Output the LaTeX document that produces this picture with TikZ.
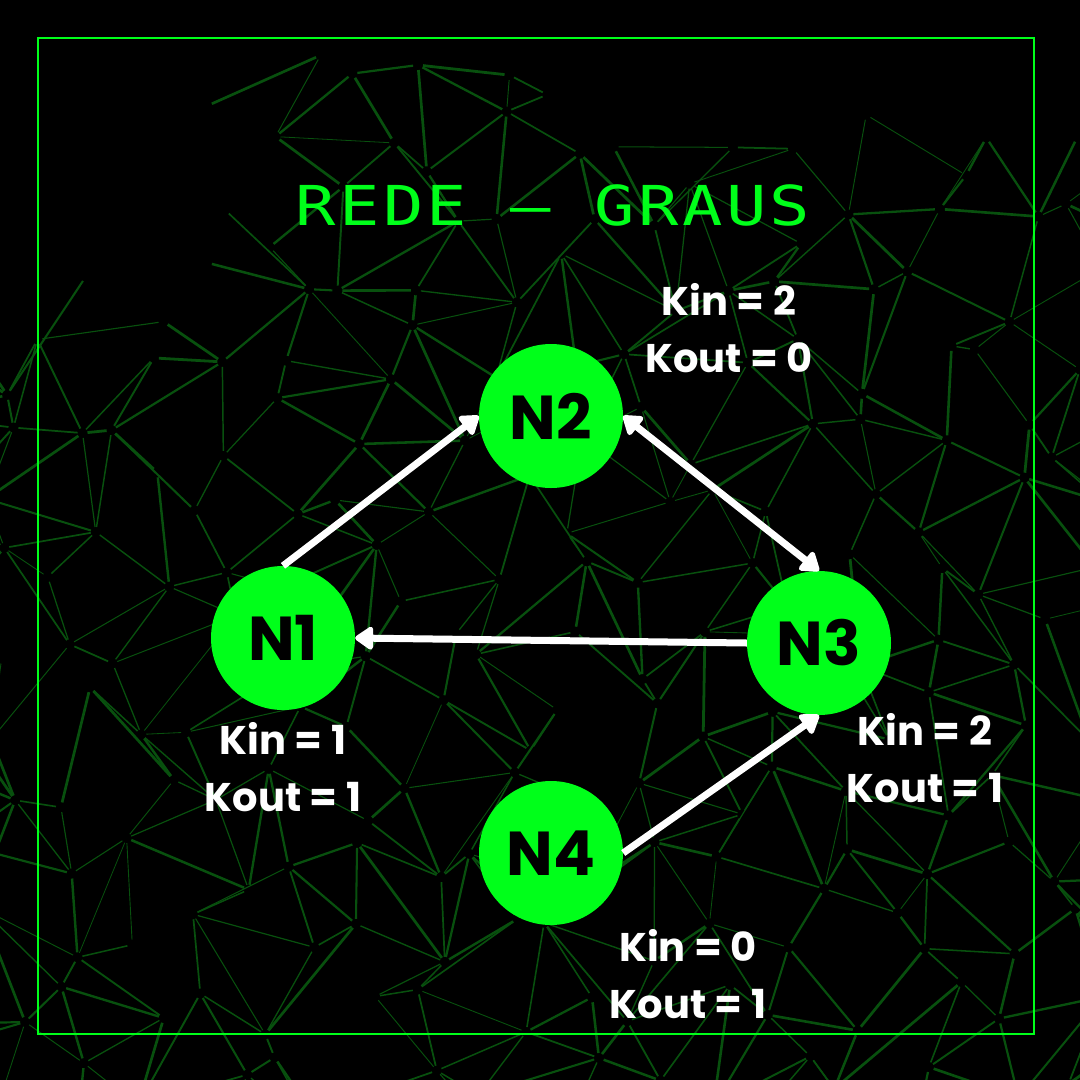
\documentclass[tikz,border=0pt]{standalone}
\usepackage{fontspec}
\usetikzlibrary{arrows.meta}
\newfontfamily\popfont{Poppins}
\newfontfamily\titlefont{DejaVu Sans Mono}[FakeStretch=1.22,LetterSpace=6]
\definecolor{neon}{RGB}{0,255,26}
\definecolor{meshgreen}{RGB}{8,80,14}
\pgfmathdeclarefunction{hx}{2}{\pgfmathparse{(#1)*72+22*sin((#1)*137.3+(#2)*241.7)+13*sin((#1)*53.1-(#2)*97.9)}}
\pgfmathdeclarefunction{hy}{2}{\pgfmathparse{(#2)*72+22*cos((#1)*211.9+(#2)*71.3)+13*sin((#1)*89.7+(#2)*163.1)}}
\newcommand\meshedge[5]{%
  \pgfmathsetmacro\mmx{(#1+#3)/2}%
  \pgfmathsetmacro\mmy{(#2+#4)/2}%
  \pgfmathsetmacro\mh{frac(abs(1000*sin(#5)))}%
  \pgfmathtruncatemacro\mok{((\mmx<250 && \mmy<330) || \mmy<55 || (\mmy<145 && \mmx>560) || \mh<0.2) ? 0 : 1}%
  \ifnum\mok=1
    \pgfmathsetmacro\mw{0.8+2*frac(abs(700*sin(#5+33)))}%
    \draw[meshgreen, line width=\mw pt, shorten <=5pt, shorten >=5pt] (#1,#2) -- (#3,#4);
  \fi}
\tikzset{
  gnode/.style={circle, fill=neon, minimum size=144pt, inner sep=0pt, text=black,
    font=\popfont\bfseries\fontsize{62}{62}\selectfont},
  arr/.style={white, line width=7pt, -{Triangle[length=20pt,width=26pt,round]}},
  darr/.style={white, line width=7pt, {Triangle[length=20pt,width=26pt,round]}-{Triangle[length=20pt,width=26pt,round]}},
  lbl/.style={text=white, align=center, font=\popfont\bfseries\fontsize{40}{57}\selectfont},
  titlestyle/.style={text=neon, font=\titlefont\fontsize{55}{60}\selectfont}
}
\begin{document}
\begin{tikzpicture}[x=1pt,y=-1pt]
  \useasboundingbox (0,0) rectangle (1080,1080);
  \fill[black] (0,0) rectangle (1080,1080);
  % background mesh
  \begin{scope}
    \clip (0,0) rectangle (1080,1080);
    \foreach \i in {-1,...,15}{
      \foreach \j in {-1,...,15}{
        \pgfmathtruncatemacro\ii{\i+1}
        \pgfmathtruncatemacro\jj{\j+1}
        \pgfmathsetmacro\mAx{hx(\i,\j)}\pgfmathsetmacro\mAy{hy(\i,\j)}
        \pgfmathsetmacro\mBx{hx(\ii,\j)}\pgfmathsetmacro\mBy{hy(\ii,\j)}
        \pgfmathsetmacro\mCx{hx(\i,\jj)}\pgfmathsetmacro\mCy{hy(\i,\jj)}
        \pgfmathsetmacro\mDx{hx(\ii,\jj)}\pgfmathsetmacro\mDy{hy(\ii,\jj)}
        \meshedge{\mAx}{\mAy}{\mBx}{\mBy}{\i*73.1+\j*191.3+7}
        \meshedge{\mAx}{\mAy}{\mCx}{\mCy}{\i*57.7+\j*113.9+41}
        \pgfmathsetmacro\dg{frac(abs(1000*sin(\i*31.3+\j*87.1+3)))}
        \ifdim\dg pt<0.5pt
          \meshedge{\mAx}{\mAy}{\mDx}{\mDy}{\i*97.3+\j*29.9+11}
        \else
          \meshedge{\mBx}{\mBy}{\mCx}{\mCy}{\i*97.3+\j*29.9+11}
        \fi
      }
    }
  \end{scope}
  % frame
  \draw[neon, line width=2pt] (38,38) rectangle (1034,1034);
  % title
  \node[titlestyle] (title) at (553,205) {REDE – GRAUS};
  % nodes
  \node[gnode] (n1) at (283,638) {N1};
  \node[gnode] (n2) at (551,416) {N2};
  \node[gnode] (n3) at (819,643) {N3};
  \node[gnode] (n4) at (551,853) {N4};
  % arrows
  \draw[arr] (n1.90) -- (n2.180);
  \draw[darr] (n2.0) -- (n3.90);
  \draw[arr] (n3.180) -- (n1.0);
  \draw[arr] (n4.0) -- (n3.270);
  % labels
  \node[lbl] (l2) at (729,328) {Kin = 2\\Kout = 0};
  \node[lbl] (l1) at (283,767) {Kin = 1\\Kout = 1};
  \node[lbl] (l3) at (925,758) {Kin = 2\\Kout = 1};
  \node[lbl] (l4) at (688,974) {Kin = 0\\Kout = 1};
\end{tikzpicture}
\end{document}
